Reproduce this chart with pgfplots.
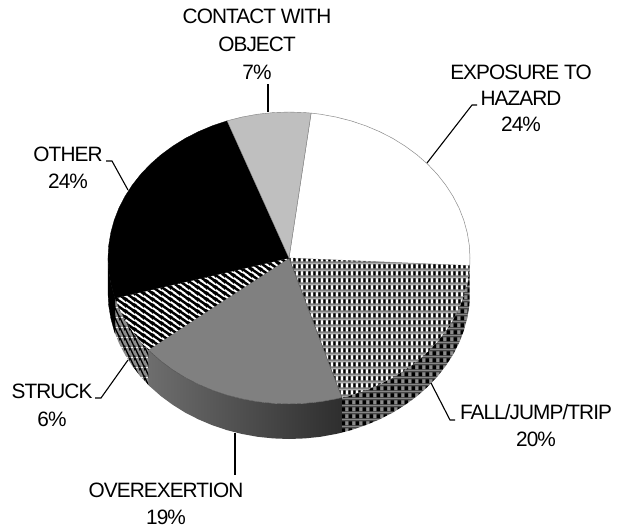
\documentclass[border=0pt]{standalone}
\usepackage{fontspec}
\setmainfont[LetterSpace=-4.5]{Liberation Sans}
\usepackage{pgfplots}
\pgfplotsset{compat=1.18}
\usetikzlibrary{patterns}
\definecolor{pgA}{gray}{0.50}
\definecolor{pgB}{gray}{0.28}
\definecolor{pgC}{gray}{0.55}
\pgfdeclarepatterninherentlycolored{falltop}{\pgfpointorigin}{\pgfqpoint{5.3pt}{7.3pt}}{\pgfqpoint{5.3pt}{7.3pt}}{%
  \pgfsetfillcolor{pgA}\pgfpathrectangle{\pgfpointorigin}{\pgfqpoint{5.3pt}{7.3pt}}\pgfusepath{fill}%
  \pgfsetfillcolor{white}\pgfpathrectangle{\pgfqpoint{0pt}{1.8pt}}{\pgfqpoint{2.3pt}{4.2pt}}\pgfusepath{fill}%
  \pgfsetfillcolor{black}\pgfpathrectangle{\pgfqpoint{2.7pt}{1.8pt}}{\pgfqpoint{2.1pt}{4.2pt}}\pgfusepath{fill}%
}
\pgfdeclarepatterninherentlycolored{fallwall}{\pgfpointorigin}{\pgfqpoint{7.3pt}{7.3pt}}{\pgfqpoint{7.3pt}{7.3pt}}{%
  \pgfsetfillcolor{pgB}\pgfpathrectangle{\pgfpointorigin}{\pgfqpoint{7.3pt}{7.3pt}}\pgfusepath{fill}%
  \pgfsetfillcolor{black}\pgfpathrectangle{\pgfqpoint{0pt}{1pt}}{\pgfqpoint{3.2pt}{4pt}}\pgfusepath{fill}%
  \pgfsetfillcolor{pgC}\pgfpathrectangle{\pgfqpoint{3.8pt}{1pt}}{\pgfqpoint{2.6pt}{4pt}}\pgfusepath{fill}%
}
\pgfdeclarepatterninherentlycolored{strucktop}{\pgfpointorigin}{\pgfqpoint{9pt}{5.8pt}}{\pgfqpoint{9pt}{5.8pt}}{%
  \pgfsetfillcolor{white}\pgfpathrectangle{\pgfpointorigin}{\pgfqpoint{9pt}{5.8pt}}\pgfusepath{fill}%
  \pgfsetstrokecolor{black}\pgfsetlinewidth{2.6pt}%
  \pgfpathmoveto{\pgfqpoint{-9pt}{11.6pt}}\pgfpathlineto{\pgfqpoint{18pt}{-5.8pt}}\pgfusepath{stroke}%
  \pgfpathmoveto{\pgfqpoint{-9pt}{5.8pt}}\pgfpathlineto{\pgfqpoint{9pt}{-5.8pt}}\pgfusepath{stroke}%
  \pgfpathmoveto{\pgfqpoint{0pt}{11.6pt}}\pgfpathlineto{\pgfqpoint{18pt}{0pt}}\pgfusepath{stroke}%
}
\pgfdeclarepatterninherentlycolored{struckwall}{\pgfpointorigin}{\pgfqpoint{5pt}{10pt}}{\pgfqpoint{5pt}{10pt}}{%
  \pgfsetfillcolor{pgC}\pgfpathrectangle{\pgfpointorigin}{\pgfqpoint{5pt}{10pt}}\pgfusepath{fill}%
  \pgfsetstrokecolor{black}\pgfsetlinewidth{1.5pt}%
  \pgfpathmoveto{\pgfqpoint{-5pt}{20pt}}\pgfpathlineto{\pgfqpoint{10pt}{-10pt}}\pgfusepath{stroke}%
  \pgfpathmoveto{\pgfqpoint{-5pt}{10pt}}\pgfpathlineto{\pgfqpoint{5pt}{-10pt}}\pgfusepath{stroke}%
  \pgfpathmoveto{\pgfqpoint{0pt}{20pt}}\pgfpathlineto{\pgfqpoint{10pt}{0pt}}\pgfusepath{stroke}%
}
\tikzset{lead/.style={black,line width=1.1pt},
  lab/.style={anchor=base,inner sep=0pt,font=\fontsize{20.8}{24}\selectfont}}
\begin{document}
\begin{tikzpicture}
\begin{axis}[hide axis,scale only axis,width=618pt,height=527pt,
  xmin=0,xmax=618,ymin=0,ymax=527,y dir=reverse,clip=false]
\path (axis cs:0,0) (axis cs:618,527);
% side walls
\addplot[pattern=fallwall,draw=none] coordinates {(469.7,265.6)(469.3,270.7)(467.2,283.3)(463.8,295.8)(459.1,307.9)(453,319.7)(445.7,331)(437.3,341.7)(427.7,351.8)(417,361.2)(405.3,369.8)(392.8,377.6)(379.5,384.4)(365.5,390.3)(350.9,395.2)(341.9,397.6)(341.9,432.6)(350.9,430.2)(365.5,425.3)(379.5,419.4)(392.8,412.6)(405.3,404.8)(417,396.2)(427.7,386.8)(437.3,376.7)(445.7,366)(453,354.7)(459.1,342.9)(463.8,330.8)(467.2,318.3)(469.3,305.7)(469.7,300.6)} -- cycle;
\addplot[left color=black!57,right color=black!82,draw=none] coordinates {(341.9,397.6)(335.8,399)(320.4,401.8)(304.8,403.4)(289,404)(273.2,403.4)(257.6,401.8)(242.2,399)(227.1,395.2)(212.5,390.3)(198.5,384.4)(185.2,377.6)(172.7,369.8)(161,361.2)(150.3,351.8)(148.3,349.9)(148.3,384.9)(150.3,386.8)(161,396.2)(172.7,404.8)(185.2,412.6)(198.5,419.4)(212.5,425.3)(227.1,430.2)(242.2,434)(257.6,436.8)(273.2,438.4)(289,439)(304.8,438.4)(320.4,436.8)(335.8,434)(341.9,432.6)} -- cycle;
\addplot[pattern=struckwall,draw=none] coordinates {(148.3,349.9)(140.7,341.7)(132.3,331)(125,319.7)(118.9,307.9)(115,298.2)(115,333.2)(118.9,342.9)(125,354.7)(132.3,366)(140.7,376.7)(148.3,384.9)} -- cycle;
\addplot[fill=black,draw=black,line width=0.3pt] coordinates {(115,298.2)(114.2,295.8)(110.8,283.3)(108.7,270.7)(108,258)(108,293)(108.7,305.7)(110.8,318.3)(114.2,330.8)(115,333.2)} -- cycle;
% tops
\addplot[fill=white,draw=black!45,line width=0.5pt] coordinates {(289,258)(311.1,113.1)(320.4,114.2)(335.8,117)(350.9,120.8)(365.5,125.7)(379.5,131.6)(392.8,138.4)(405.3,146.2)(417,154.8)(427.7,164.2)(437.3,174.3)(445.7,185)(453,196.3)(459.1,208.1)(463.8,220.2)(467.2,232.7)(469.3,245.3)(470,258)(469.7,265.6)} -- cycle;
\addplot[pattern=falltop,draw=none] coordinates {(289,258)(469.7,265.6)(469.3,270.7)(467.2,283.3)(463.8,295.8)(459.1,307.9)(453,319.7)(445.7,331)(437.3,341.7)(427.7,351.8)(417,361.2)(405.3,369.8)(392.8,377.6)(379.5,384.4)(365.5,390.3)(350.9,395.2)(341.9,397.6)} -- cycle;
\addplot[fill=black!50,draw=black!70,line width=0.4pt] coordinates {(289,258)(341.9,397.6)(335.8,399)(320.4,401.8)(304.8,403.4)(289,404)(273.2,403.4)(257.6,401.8)(242.2,399)(227.1,395.2)(212.5,390.3)(198.5,384.4)(185.2,377.6)(172.7,369.8)(161,361.2)(150.3,351.8)(148.3,349.9)} -- cycle;
\addplot[pattern=strucktop,draw=none] coordinates {(289,258)(148.3,349.9)(140.7,341.7)(132.3,331)(125,319.7)(118.9,307.9)(115,298.2)} -- cycle;
\addplot[fill=black,draw=black,line width=0.3pt] coordinates {(289,258)(115,298.2)(114.2,295.8)(110.8,283.3)(108.7,270.7)(108,258)(108.7,245.3)(110.8,232.7)(114.2,220.2)(118.9,208.1)(125,196.3)(132.3,185)(140.7,174.3)(150.3,164.2)(161,154.8)(172.7,146.2)(185.2,138.4)(198.5,131.6)(212.5,125.7)(227.1,120.8)} -- cycle;
\addplot[fill=black!25,draw=black!50,line width=0.4pt] coordinates {(289,258)(227.1,120.8)(242.2,117)(257.6,114.2)(273.2,112.6)(289,112)(304.8,112.6)(311.1,113.1)} -- cycle;
% leader lines
\addplot[lead] coordinates {(427,163)(472,105)(477,105)};
\addplot[lead] coordinates {(268,84)(268,112)};
\addplot[lead] coordinates {(106,161)(112,161)(128,190)};
\addplot[lead] coordinates {(95,398)(101,398)(128,360)};
\addplot[lead] coordinates {(431,383)(450,420)(455,420)};
\addplot[lead] coordinates {(235,433)(235,475)};
% labels
\node[lab] at (axis cs:521,79) {EXPOSURE TO};
\node[lab] at (axis cs:521,105) {HAZARD};
\node[lab] at (axis cs:521,131.5) {24\%};
\node[lab] at (axis cs:257,24) {CONTACT WITH};
\node[lab] at (axis cs:257,52) {OBJECT};
\node[lab] at (axis cs:257,79) {7\%};
\node[lab] at (axis cs:68,161) {OTHER};
\node[lab] at (axis cs:68,188) {24\%};
\node[lab] at (axis cs:52,398) {STRUCK};
\node[lab] at (axis cs:52,426) {6\%};
\node[lab] at (axis cs:536,419) {FALL/JUMP/TRIP};
\node[lab] at (axis cs:536,446) {20\%};
\node[lab] at (axis cs:166,497) {OVEREXERTION};
\node[lab] at (axis cs:166,524) {19\%};
\end{axis}
\end{tikzpicture}
\end{document}
